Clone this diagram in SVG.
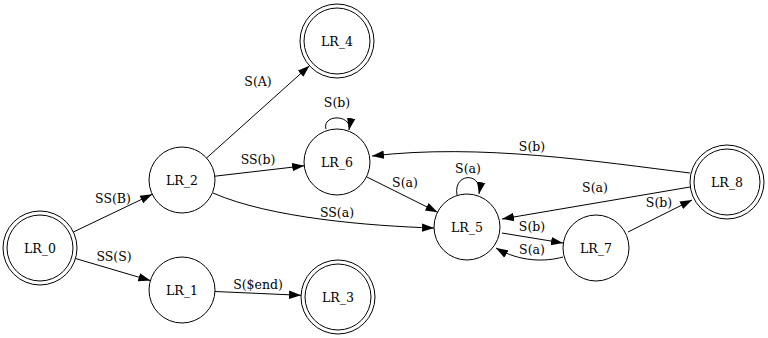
<svg xmlns="http://www.w3.org/2000/svg" width="768" height="338" viewBox="0 0 768 338">
<style>
.n{fill:none;stroke:#000;stroke-width:1}
.t{font-family:"DejaVu Serif",serif;font-size:12.5px;text-anchor:middle;fill:#000}
.e{fill:none;stroke:#000;stroke-width:1;marker-end:url(#ah)}
</style>
<defs>
<marker id="ah" markerUnits="userSpaceOnUse" markerWidth="12" markerHeight="10" refX="10" refY="3.5" orient="auto" viewBox="0 0 10 7">
<path d="M0,0 L10,3.5 L0,7 Z" fill="#000"/>
</marker>
</defs>
<rect width="768" height="338" fill="#fff"/>
<g id="connectors">
<path class="e" d="M73.4,232 L152.2,194.3"/>
<text class="t" x="113" y="203">SS(B)</text>
<path class="e" d="M75.5,258.5 L150.4,280.6"/>
<text class="t" x="114" y="261">SS(S)</text>
<path class="e" d="M215,291.5 L301,295.3"/>
<text class="t" x="258" y="289">S($end)</text>
<path class="e" d="M206.6,158 L309.5,65.7"/>
<text class="t" x="258" y="86">S(A)</text>
<path class="e" d="M214.8,176.2 L304.2,165.8"/>
<text class="t" x="258" y="164">SS(b)</text>
<path class="e" d="M213,193 C270,218 370,226 434,228"/>
<text class="t" x="337" y="217">SS(a)</text>
<path class="e" d="M326,129 C322,114 352,114 349,130"/>
<text class="t" x="337" y="107">S(b)</text>
<path class="e" d="M366.5,176.8 L437.5,212.2"/>
<text class="t" x="405" y="187">S(a)</text>
<path class="e" d="M457,195 C453,172 483,172 479,194"/>
<text class="t" x="468" y="173">S(a)</text>
<path class="e" d="M502,233 L563,243"/>
<text class="t" x="532" y="231">S(b)</text>
<path class="e" d="M563,257 C545,262 520,262 496,248"/>
<text class="t" x="532" y="254">S(a)</text>
<path class="e" d="M628,232 L692,200"/>
<text class="t" x="659" y="207">S(b)</text>
<path class="e" d="M690,187 L502,219"/>
<text class="t" x="595" y="192">S(a)</text>
<path class="e" d="M690,173 C600,162 480,143 372,156"/>
<text class="t" x="532" y="151">S(b)</text>
</g>
<g id="LR_0"><circle class="n" cx="40" cy="248" r="37"/><circle class="n" cx="40" cy="248" r="33"/><text class="t" x="40" y="252.5">LR_0</text></g>
<g id="LR_1"><circle class="n" cx="182" cy="290" r="33"/><text class="t" x="182" y="294.5">LR_1</text></g>
<g id="LR_2"><circle class="n" cx="182" cy="180" r="33"/><text class="t" x="182" y="184.5">LR_2</text></g>
<g id="LR_3"><circle class="n" cx="338" cy="297" r="37"/><circle class="n" cx="338" cy="297" r="33"/><text class="t" x="338" y="301.5">LR_3</text></g>
<g id="LR_4"><circle class="n" cx="337" cy="41" r="37"/><circle class="n" cx="337" cy="41" r="33"/><text class="t" x="337" y="45.5">LR_4</text></g>
<g id="LR_5"><circle class="n" cx="467" cy="227" r="33"/><text class="t" x="467" y="231.5">LR_5</text></g>
<g id="LR_6"><circle class="n" cx="337" cy="162" r="33"/><text class="t" x="337" y="166.5">LR_6</text></g>
<g id="LR_7"><circle class="n" cx="596" cy="248" r="33"/><text class="t" x="596" y="252.5">LR_7</text></g>
<g id="LR_8"><circle class="n" cx="727" cy="182" r="37"/><circle class="n" cx="727" cy="182" r="33"/><text class="t" x="727" y="186.5">LR_8</text></g>
</svg>
